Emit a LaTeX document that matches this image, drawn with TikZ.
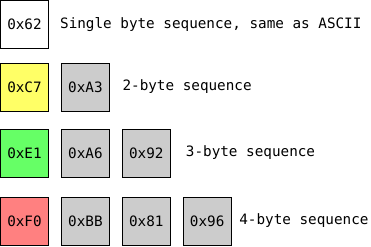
\documentclass[tikz,border=0pt]{standalone}
\usepackage{fontspec}
\setmonofont{DejaVu Sans Mono}
\usepackage{tikz}
\usetikzlibrary{positioning}

\definecolor{leadyellow}{HTML}{FFFF66}
\definecolor{leadgreen}{HTML}{66FF66}
\definecolor{leadred}{HTML}{FF8080}
\definecolor{contgray}{HTML}{CCCCCC}

\begin{document}
\begin{tikzpicture}
 [x=1pt,y=1pt,
  byte node/.style={draw=black,line width=0.9pt,minimum size=48pt,inner sep=0pt,
    node distance=12pt,font=\fontsize{14.3}{16}\ttfamily},
  cont node/.style={byte node,fill=contgray},
  text node/.style={inner sep=0pt,font=\fontsize{14.3}{16}\ttfamily}]

 \useasboundingbox (0,0) rectangle (371,-246);

 % one byte
 \node[byte node,fill=white] (a1) at (24.5,-24.5) {0x62};
 \node[text node] (la) [right=11pt of a1] {Single byte sequence, same as ASCII};

 % two bytes
 \node[byte node,fill=leadyellow] (b1) at (24.5,-87) {0xC7};
 \node[cont node] (b2) [right=of b1] {0xA3};
 \node[text node] (lb) [right=12.5pt of b2] {2-byte sequence};

 % three bytes
 \node[byte node,fill=leadgreen] (c1) at (24.5,-153) {0xE1};
 \node[cont node] (c2) [right=of c1] {0xA6};
 \node[cont node] (c3) [right=of c2] {0x92};
 \node[text node] (lc) [right=15pt of c3] {3-byte sequence};

 % four bytes
 \node[byte node,fill=leadred] (d1) at (24.5,-221) {0xF0};
 \node[cont node] (d2) [right=of d1] {0xBB};
 \node[cont node] (d3) [right=of d2] {0x81};
 \node[cont node] (d4) [right=of d3] {0x96};
 \node[text node] (ld) [right=7.5pt of d4] {4-byte sequence};

\end{tikzpicture}
\end{document}
